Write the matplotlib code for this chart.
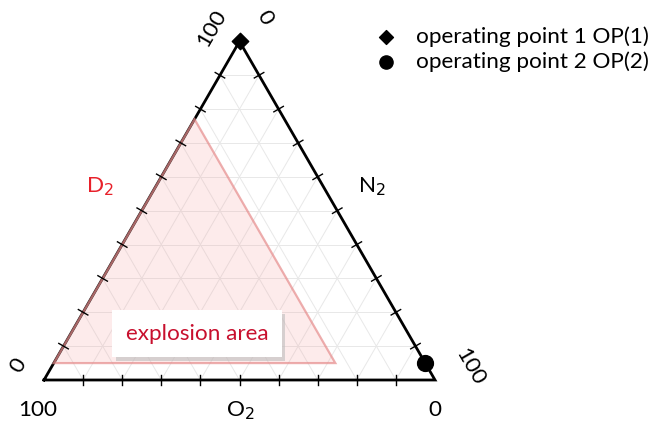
#!/usr/bin/env python3
"""Ternary diagram D2 / N2 / O2 with explosion area and two operating points."""

import matplotlib.pyplot as plt
import numpy as np
from matplotlib import transforms

# --- data (fractions in percent) ---
ticks = np.arange(0, 101, 10)
# explosion area corners as (D2, N2, O2)
explosion_d2 = [5, 77, 5]
explosion_n2 = [0, 0, 72]
explosion_o2 = [95, 23, 23]
# operating points (D2, N2, O2)
op_labels = ["operating point 1 OP(1)", "operating point 2 OP(2)"]
op_markers = ["D", "o"]
op_d2 = [100, 5]
op_n2 = [0, 95]
op_o2 = [0, 0]

FONT = ["Lato", "DejaVu Sans"]
FS = 16.2


def to_xy(d2, n2, o2):
    """Ternary -> cartesian: O2 bottom-left, N2 bottom-right, D2 top."""
    d2 = np.asarray(d2, dtype=float) / 100
    n2 = np.asarray(n2, dtype=float) / 100
    return n2 + d2 / 2, d2 * np.sqrt(3) / 2


def main():
    fig = plt.figure(figsize=(6.56, 4.32), dpi=100)
    ax = fig.add_axes([0, 0, 1, 1])
    ax.set_xlim(-44 / 391, 612 / 391)
    ax.set_ylim(-52 / 391, 380 / 391)
    ax.set_aspect("equal")
    ax.axis("off")

    # grid lines
    for t in ticks[1:-1]:
        for a, b in [((t, 0, 100 - t), (t, 100 - t, 0)),
                     ((0, t, 100 - t), (100 - t, t, 0)),
                     ((0, 100 - t, t), (100 - t, 0, t))]:
            x, y = to_xy([a[0], b[0]], [a[1], b[1]], [a[2], b[2]])
            ax.plot(x, y, color="#e8e8e8", lw=0.7, zorder=1)

    # explosion area
    ex, ey = to_xy(explosion_d2, explosion_n2, explosion_o2)
    ax.fill(ex, ey, facecolor=(0.96, 0.62, 0.62, 0.2),
            edgecolor=(0.9, 0.55, 0.55, 0.7), lw=1.6, zorder=3)

    # triangle outline
    tx, ty = to_xy([0, 0, 100, 0], [0, 100, 0, 0], [100, 0, 0, 100])
    ax.plot(tx, ty, color="black", lw=2, zorder=2, solid_joinstyle="miter")

    # tick marks, perpendicular to each edge
    L = 0.014
    s3 = np.sqrt(3) / 2
    for t in ticks[1:-1]:
        # bottom edge (O2)
        x, y = to_xy(0, 100 - t, t)
        ax.plot([x, x], [y - L, y + L], color="black", lw=1, zorder=4)
        # left edge (D2)
        x, y = to_xy(t, 0, 100 - t)
        ax.plot([x - L * s3, x + L * s3], [y + L / 2, y - L / 2], color="black", lw=1, zorder=4)
        # right edge (N2)
        x, y = to_xy(100 - t, t, 0)
        ax.plot([x - L * s3, x + L * s3], [y - L / 2, y + L / 2], color="black", lw=1, zorder=4)

    # operating points
    for lab, mk, d, n, o in zip(op_labels, op_markers, op_d2, op_n2, op_o2):
        x, y = to_xy(d, n, o)
        ax.scatter(x, y, marker=mk, s=70 if mk == "D" else 130, color="black",
                   zorder=6, clip_on=False, label=lab)
    leg = ax.legend(loc="upper left", bbox_to_anchor=(0.541, 0.959), frameon=False,
                    handletextpad=0.3, labelspacing=0.2, borderaxespad=0,
                    prop={"family": FONT, "size": FS})
    for h, s in zip(leg.legend_handles, [50, 90]):
        h.set_sizes([s])

    # tick labels at corners
    tk = dict(fontsize=FS, family=FONT, ha="center", va="center")
    ax.text(-0.015, -0.077, "100", **tk)
    ax.text(-0.066, 0.038, "0", rotation=60, **tk)
    ax.text(1.0, -0.077, "0", **tk)
    ax.text(1.089, 0.033, "100", rotation=-60, **tk)
    ax.text(0.43, 0.9, "100", rotation=60, **tk)
    ax.text(0.565, 0.926, "0", rotation=-60, **tk)

    # axis names
    ax.text(0.143, 0.494, "D$_2$", color="#e8202a", **tk)
    ax.text(0.839, 0.494, "N$_2$", **tk)
    ax.text(0.501, -0.079, "O$_2$", **tk)

    # explosion area label with shadow box
    x, y = 0.391, 0.118
    lbl = dict(fontsize=FS, family=FONT, ha="center", va="center", zorder=7)
    shadow = transforms.offset_copy(ax.transData, fig=fig, x=2.5, y=-2.5, units="points")
    ax.text(x, y, "explosion area", color="none", transform=shadow,
            bbox=dict(boxstyle="square,pad=0.6", fc="#bdbdbd", ec="none", alpha=0.6), **lbl)
    ax.text(x, y, "explosion area", color="#c8102e",
            bbox=dict(boxstyle="square,pad=0.6", fc="white", ec="none"), **lbl)

    fig.savefig("out.png", dpi=100)


if __name__ == "__main__":
    main()
